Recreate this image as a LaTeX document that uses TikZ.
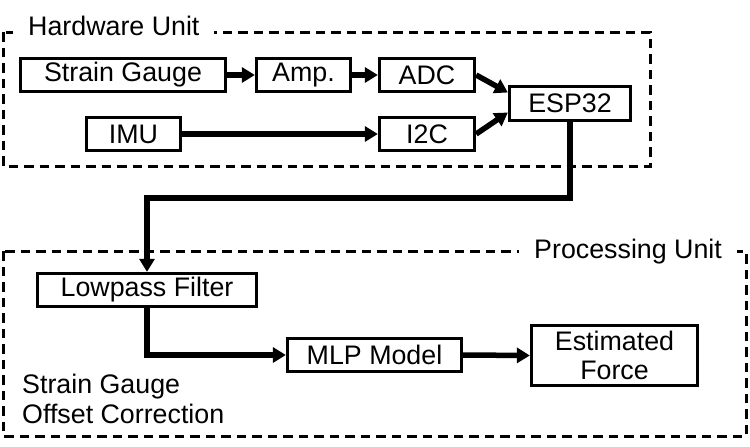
\documentclass[tikz,border=0pt]{standalone}
\usepackage{fontspec}
\setmainfont{Liberation Sans}
\usetikzlibrary{arrows.meta,calc}

\begin{document}
\begin{tikzpicture}[
    x=1pt, y=-1pt,
    every node/.style={font=\fontsize{26.8}{30}\selectfont},
    block/.style={draw, line width=3.3pt, inner sep=0pt, minimum height=33pt, align=center},
    unitframe/.style={draw, line width=3pt, dash pattern=on 9.5pt off 6pt},
    unitlabel/.style={fill=white, inner xsep=15pt, inner ysep=2pt, anchor=base west},
    flow/.style={draw, line width=5.5pt, -{Triangle[length=13pt,width=15pt]}},
  ]
  \useasboundingbox (0,0) rectangle (750,447);

  % dashed unit frames
  \draw[unitframe] (3,32) rectangle (650,166);
  \draw[unitframe] (3,251) rectangle (746,436);
  \node[unitlabel] (hwlabel) at (13,35) {Hardware Unit};
  \node[unitlabel] (pulabel) at (519,258) {Processing Unit};

  % hardware blocks
  \node[block, minimum width=205pt] (sg)  at (123,75)    {Strain Gauge};
  \node[block, minimum width=94pt]  (amp) at (303.5,75)  {Amp.};
  \node[block, minimum width=95pt]  (adc) at (427,75)    {ADC};
  \node[block, minimum width=94pt]  (imu) at (133.5,134) {IMU};
  \node[block, minimum width=95pt]  (i2c) at (427,134)   {I2C};
  \node[block, minimum width=121pt, minimum height=34pt] (esp) at (570,103.5) {ESP32};

  % processing blocks
  \node[block, minimum width=219pt] (lpf) at (147,290)   {Lowpass Filter};
  \node[block, minimum width=174pt] (mlp) at (374.5,355) {MLP Model};
  \node[block, minimum width=166pt, minimum height=60pt] (est) at (614.5,355.5) {Estimated\\[-1pt]Force};

  \node[anchor=north west, inner sep=0pt, align=left] (offset) at (22,374) {Strain Gauge\\Offset Correction};

  % signal flow
  \coordinate (espA) at ([yshift=11pt]esp.west);
  \coordinate (espB) at ([yshift=-9pt]esp.west);
  \draw[flow] (sg.east) -- (amp.west);
  \draw[flow] (amp.east) -- (adc.west);
  \draw[flow] (imu.east) -- (i2c.west);
  \draw[flow] (adc.east) -- (espA);
  \draw[flow] (i2c.east) -- (espB);
  \draw[flow] (esp.south) -- ++(0,76) -| (lpf.north);
  \draw[flow] (lpf.south) |- (mlp.west);
  \draw[flow] (mlp.east) -- (est.west);
\end{tikzpicture}
\end{document}
